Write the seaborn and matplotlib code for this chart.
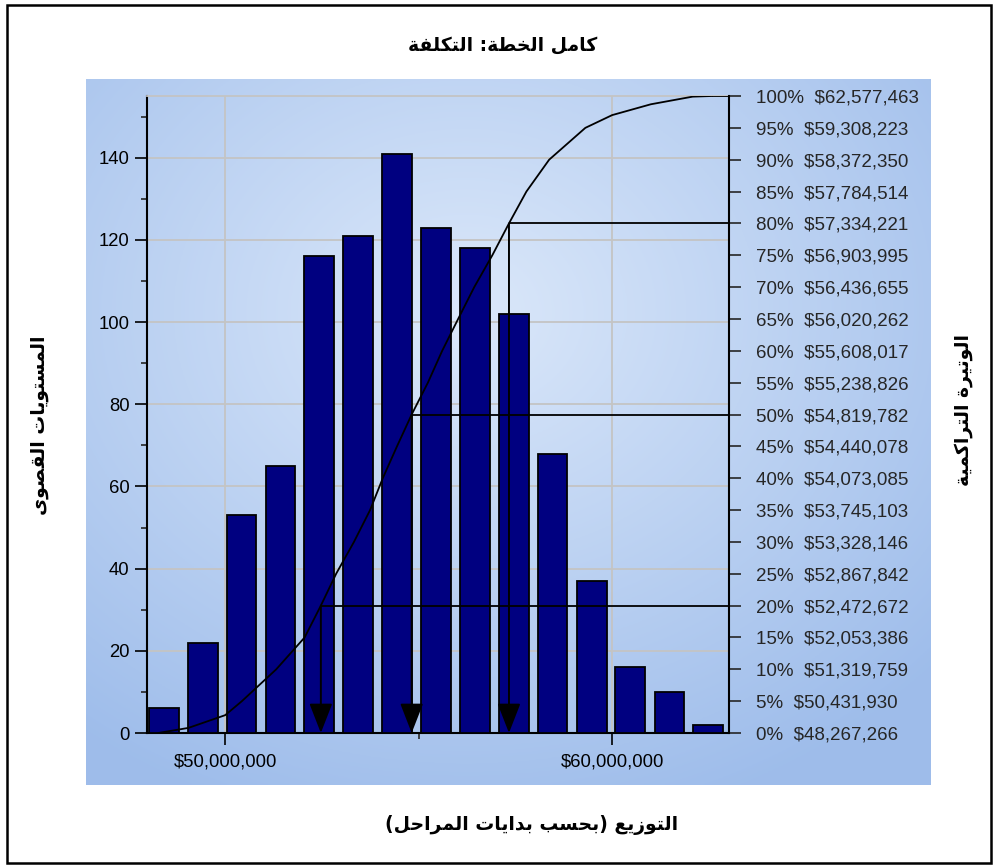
import numpy as np
import matplotlib
matplotlib.use("Agg")
import matplotlib.pyplot as plt
from matplotlib.ticker import FuncFormatter, MultipleLocator, FixedLocator
from matplotlib.patches import Rectangle
import seaborn as sns

# histogram of simulated plan cost (bin centres in $, hits per bin)
bin_centers = [48.41e6, 49.42e6, 50.42e6, 51.43e6, 52.43e6, 53.44e6, 54.44e6, 55.45e6,
               56.45e6, 57.46e6, 58.46e6, 59.47e6, 60.47e6, 61.48e6, 62.48e6]
hits = [6, 22, 53, 65, 116, 121, 141, 123, 118, 102, 68, 37, 16, 10, 2]

# cumulative table shown on the right axis
pct_levels = [0, 5, 10, 15, 20, 25, 30, 35, 40, 45, 50, 55, 60, 65, 70, 75, 80, 85, 90, 95, 100]
pct_values = [48267266, 50431930, 51319759, 52053386, 52472672, 52867842, 53328146,
              53745103, 54073085, 54440078, 54819782, 55238826, 55608017, 56020262,
              56436655, 56903995, 57334221, 57784514, 58372350, 59308223, 62577463]

tail_x = [49.05e6, 50.0e6, 60.0e6, 61.0e6, 62.08e6]
tail_pct = [0.8, 2.8, 97.0, 98.7, 99.9]

marked = [20, 50, 80]

title = "كامل الخطة: التكلفة"
xlabel = "التوزيع (بحسب بدايات المراحل)"
ylabel_left = "المستويات القصوى"
ylabel_right = "الوتيرة التراكمية"

# --- minimal arabic shaping (matplotlib has no bidi / joining) ---
DUAL = {'ب': 0xFE8F, 'ت': 0xFE95, 'ح': 0xFEA1, 'خ': 0xFEA5, 'س': 0xFEB1, 'ص': 0xFEB9,
        'ط': 0xFEC1, 'ع': 0xFEC9, 'ف': 0xFED1, 'ق': 0xFED5, 'ك': 0xFED9, 'ل': 0xFEDD,
        'م': 0xFEE1, 'ي': 0xFEF1}
RIGHT = {'ا': 0xFE8D, 'ة': 0xFE93, 'د': 0xFEA9, 'ر': 0xFEAD, 'ز': 0xFEAF, 'و': 0xFEED,
         'ى': 0xFEEF}


def shape(s):
    out = []
    for i, c in enumerate(s):
        if c not in DUAL and c not in RIGHT:
            out.append({'(': ')', ')': '('}.get(c, c))
            continue
        prev = s[i - 1] if i > 0 else ''
        nxt = s[i + 1] if i + 1 < len(s) else ''
        pj = prev in DUAL
        nj = (nxt in DUAL or nxt in RIGHT) and c in DUAL
        base = DUAL.get(c, RIGHT.get(c))
        if pj and nj:
            code = base + 3
        elif nj:
            code = base + 2
        elif pj:
            code = base + 1
        else:
            code = base
        out.append(chr(code))
    return ''.join(reversed(out))


sns.set_style("ticks")
plt.rcParams['font.family'] = ['Liberation Sans', 'DejaVu Sans']

W, H = 997, 867
fig = plt.figure(figsize=(W / 100, H / 100), dpi=100)

# gradient panel behind the chart
bg = fig.add_axes([86 / W, 1 - 785 / H, (930 - 86) / W, (785 - 79) / H], zorder=-5)
gy, gx = np.mgrid[0:1:300j, 0:1:400j]
r = np.sqrt(((gx - 0.45) / 0.75) ** 2 + ((gy - 0.33) / 0.75) ** 2)
r = np.clip(r, 0, 1)
c0 = np.array([0.86, 0.91, 0.98])
c1 = np.array([0.62, 0.74, 0.92])
img = c0[None, None, :] * (1 - r[..., None]) + c1[None, None, :] * r[..., None]
bg.imshow(img, aspect='auto', extent=[0, 1, 0, 1], origin='upper')
bg.set_axis_off()

fig.patches.append(Rectangle((7 / W, 4 / H), (991 - 7) / W, (862 - 4) / H,
                             transform=fig.transFigure, fill=False, ec='black', lw=1.8))

ax = fig.add_axes([147 / W, 1 - 733 / H, (729 - 147) / W, (733 - 96) / H])
ax.patch.set_alpha(0)

sns.barplot(x=bin_centers, y=hits, native_scale=True, width=0.77, color='#000080',
            saturation=1, edgecolor='black', linewidth=1.3, errorbar=None, ax=ax, zorder=3)

ax.set_xlim(47.98e6, 63.02e6)
ax.set_ylim(0, 155)
ax.xaxis.set_major_locator(FixedLocator([50e6, 60e6]))
ax.xaxis.set_minor_locator(FixedLocator([55e6]))
ax.xaxis.set_major_formatter(FuncFormatter(lambda v, _: f"${v:,.0f}"))
ax.yaxis.set_major_locator(MultipleLocator(20))
ax.yaxis.set_minor_locator(MultipleLocator(10))
ax.grid(True, which='major', color='#c4c4c4', lw=1.3)
ax.set_axisbelow(True)
ax.tick_params(which='major', direction='out', length=8.5, width=1.2, labelsize=13.3, colors='black', pad=4)
ax.tick_params(which='minor', direction='out', length=4.3, width=1.2)
ax.tick_params(axis='x', which='major', pad=6)
for side in ['left', 'bottom']:
    ax.spines[side].set_color('black')
    ax.spines[side].set_linewidth(1.5)
ax.spines['right'].set_visible(False)
ax.spines['top'].set_color('#c4c4c4')
ax.spines['top'].set_linewidth(1.3)
ax.set_xlabel('')
ax.set_ylabel('')

ax2 = ax.twinx()
ax2.set_ylim(0, 100)
ax2.set_xlim(ax.get_xlim())
curve = sorted(zip(list(pct_values) + tail_x, list(pct_levels) + tail_pct))
sns.lineplot(x=[p[0] for p in curve], y=[p[1] for p in curve], color='black', lw=1.3,
             sort=False, estimator=None, ax=ax2)
ax2.hlines(100, pct_values[-1], ax.get_xlim()[1], color='black', lw=1.3)

for lvl in marked:
    xv = pct_values[pct_levels.index(lvl)]
    ax2.hlines(lvl, xv, ax.get_xlim()[1], color='black', lw=1.3)
    ax2.annotate('', xy=(xv, 0), xytext=(xv, lvl),
                 arrowprops=dict(arrowstyle='-|>,head_length=1.85,head_width=0.72',
                                 mutation_scale=10, color='black', lw=1.4,
                                 shrinkA=0, shrinkB=0))

ax2.yaxis.set_major_locator(FixedLocator(pct_levels))
ax2.set_yticklabels([f"{p}%  ${v:,}" for p, v in zip(pct_levels, pct_values)])
ax2.tick_params(axis='y', direction='out', length=8.5, width=1.2, labelsize=13.5, pad=11)
for side in ['left', 'top', 'bottom']:
    ax2.spines[side].set_visible(False)
ax2.spines['right'].set_color('black')
ax2.spines['right'].set_linewidth(1.5)
ax2.set_ylabel('')

arab = dict(family='DejaVu Sans', fontweight='bold', color='black')
fig.text(503 / W, 1 - 45 / H, shape(title), ha='center', va='center', fontsize=13.5, **arab)
fig.text(532 / W, 1 - 825 / H, shape(xlabel), ha='center', va='center', fontsize=13.5, **arab)
fig.text(40 / W, 1 - 425 / H, shape(ylabel_left), ha='center', va='center', rotation=90, fontsize=13.5, **arab)
fig.text(963 / W, 1 - 410 / H, shape(ylabel_right), ha='center', va='center', rotation=90, fontsize=13.5, **arab)

fig.savefig('out.png', dpi=100)
